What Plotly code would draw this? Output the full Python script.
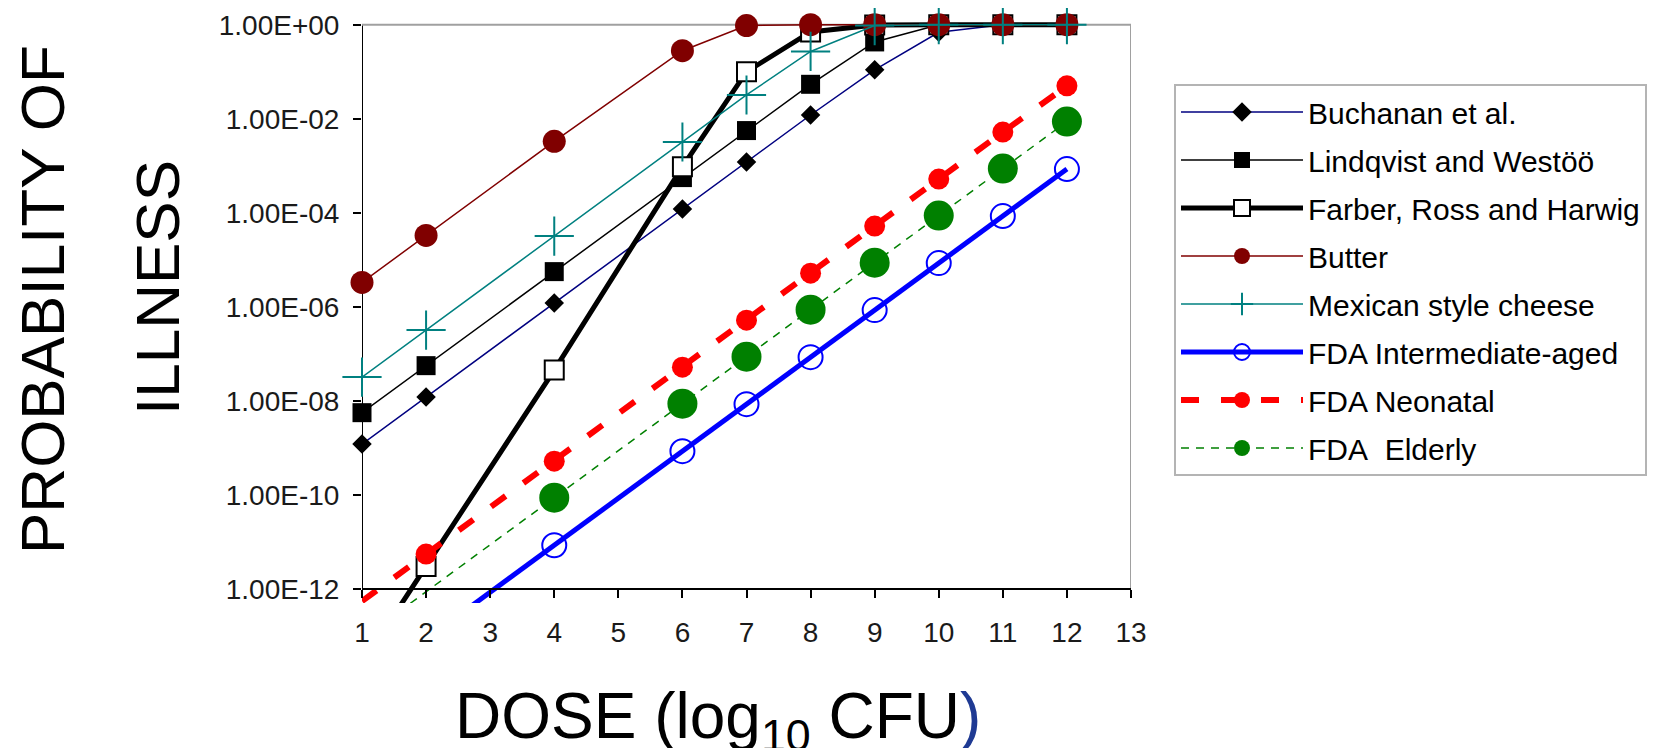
import plotly.graph_objects as go

# ---------------- data ----------------
dose = [1, 2, 4, 6, 7, 8, 9, 10, 11, 12]

buchanan = [1.2e-9, 1.2e-8, 1.2e-6, 1.2e-4, 1.2e-3, 1.2e-2, 0.11, 0.69, 1.0, 1.0]
lindqvist = [5.6e-9, 5.6e-8, 5.6e-6, 5.6e-4, 5.6e-3, 5.4e-2, 0.43, 1.0, 1.0, 1.0]
farber = [2.5e-14, 3.0e-12, 4.5e-8, 9.5e-4, 0.10, 0.70, 0.99, 1.0, 1.0, 1.0]
butter = [3.3e-6, 3.3e-5, 3.3e-3, 0.28, 0.96, 1.0, 1.0, 1.0, 1.0, 1.0]
mexican = [3.2e-8, 3.2e-7, 3.2e-5, 3.2e-3, 0.032, 0.27, 0.96, 1.0, 1.0, 1.0]
fda_intermediate = [8.5e-15, 8.5e-14, 8.5e-12, 8.5e-10, 8.5e-9, 8.5e-8, 8.5e-7, 8.5e-6, 8.5e-5, 8.5e-4]
fda_neonatal = [5.5e-13, 5.5e-12, 5.2e-10, 5.2e-8, 5.2e-7, 5.2e-6, 5.2e-5, 5.2e-4, 5.2e-3, 0.05]
fda_elderly = [8.7e-14, 8.7e-13, 8.7e-11, 8.7e-9, 8.7e-8, 8.7e-7, 8.7e-6, 8.7e-5, 8.7e-4, 8.7e-3]

series_names = [
    "Buchanan et al.",
    "Lindqvist and Westöö",
    "Farber, Ross and Harwig",
    "Butter",
    "Mexican style cheese",
    "FDA Intermediate-aged",
    "FDA Neonatal",
    "FDA\u00a0 Elderly",
]

x_ticks = list(range(1, 14))
y_tickvals = [1e0, 1e-2, 1e-4, 1e-6, 1e-8, 1e-10, 1e-12]
y_ticktext = ["1.00E+00", "1.00E-02", "1.00E-04", "1.00E-06", "1.00E-08", "1.00E-10", "1.00E-12"]

# ---------------- layout constants ----------------
FONT = "Liberation Sans, Arial, Helvetica, sans-serif"
OFF = 8                      # default body margin of the html page
W, H = 1668 - 2 * OFF, 756 - 2 * OFF
ML, MR, MT, MB = 354, 529, 12, 145
Y_LOG_RANGE = [-12.3, 0.1]
X_RANGE = [1, 13]
Y_FLOOR = 1e-12

PW = W - ML - MR
PH = H - MT - MB


def px_to_paper_x(px):       # px given in window coordinates
    return (px - OFF - ML) / PW


def px_to_paper_y(py):
    return (H - MB - (py - OFF)) / PH


def sizes(vals, s):
    # points below the axis floor are not drawn (as in the original chart)
    return [s if v >= Y_FLOOR else 0 for v in vals]


styles = [
    dict(line=dict(color="#000080", width=1.5),
         marker=dict(symbol="diamond", size=15, color="black", line=dict(width=0))),
    dict(line=dict(color="black", width=1.5),
         marker=dict(symbol="square", size=19, color="black", line=dict(width=0))),
    dict(line=dict(color="black", width=5),
         marker=dict(symbol="square", size=19, color="white", line=dict(color="black", width=2))),
    dict(line=dict(color="#800000", width=1.5),
         marker=dict(symbol="circle", size=23, color="#800000", line=dict(width=0))),
    dict(line=dict(color="#008080", width=1.5),
         marker=dict(symbol="cross-thin", size=28, color="#008080", line=dict(color="#008080", width=2))),
    dict(line=dict(color="#0000FF", width=5),
         marker=dict(symbol="circle-open", size=24, color="#0000FF", line=dict(color="#0000FF", width=2))),
    dict(line=dict(color="#FF0000", width=6, dash="18px,22px"),
         marker=dict(symbol="circle", size=21, color="#FF0000", line=dict(width=0))),
    dict(line=dict(color="#008000", width=1.5, dash="8px,7px"),
         marker=dict(symbol="circle", size=30, color="#008000", line=dict(width=0))),
]

all_series = [buchanan, lindqvist, farber, butter, mexican,
              fda_intermediate, fda_neonatal, fda_elderly]

fig = go.Figure()
for i, (name, vals, st) in enumerate(zip(series_names, all_series, styles)):
    mk = dict(st["marker"])
    mk["size"] = sizes(vals, mk["size"])
    mk["opacity"] = 1
    fig.add_trace(go.Scatter(
        x=dose, y=vals, name=name, mode="lines+markers",
        line=st["line"], marker=mk, cliponaxis=False,
        legendgroup=f"g{i}",
    ))

x_axis_pos = (0 - Y_LOG_RANGE[0] - 12) / (Y_LOG_RANGE[1] - Y_LOG_RANGE[0])

fig.update_layout(
    width=W, height=H,
    margin=dict(l=ML, r=MR, t=MT, b=MB, pad=0, autoexpand=False),
    paper_bgcolor="white", plot_bgcolor="white",
    font=dict(family=FONT, color="black"),
    showlegend=True,
    legend=dict(
        x=px_to_paper_x(1174), y=px_to_paper_y(84),
        xanchor="left", yanchor="top",
        bgcolor="white", bordercolor="#b4b4b4", borderwidth=2,
        font=dict(family=FONT, size=30, color="black"),
        itemwidth=122, tracegroupgap=6,
        traceorder="grouped",
    ),
    xaxis=dict(
        range=X_RANGE, tickvals=x_ticks, ticktext=[str(t) for t in x_ticks],
        ticks="outside", ticklen=8, tickwidth=2, tickcolor="black",
        showline=True, linecolor="black", linewidth=2,
        showgrid=False, zeroline=False,
        anchor="free", position=x_axis_pos,
        tickfont=dict(family=FONT, size=28, color="#1a1a1a"),
        ticklabelstandoff=11,
    ),
    yaxis=dict(
        type="log", range=Y_LOG_RANGE,
        tickvals=y_tickvals, ticktext=y_ticktext,
        ticks="outside", ticklen=8, tickwidth=2, tickcolor="black",
        showline=False, showgrid=False, zeroline=False,
        tickfont=dict(family=FONT, size=28, color="#1a1a1a"),
        ticklabelstandoff=8,
    ),
    shapes=[
        dict(type="line", xref="x", yref="y", x0=X_RANGE[0], x1=X_RANGE[0], y0=Y_FLOOR, y1=1,
             line=dict(color="black", width=2), layer="below"),
        dict(type="line", xref="x", yref="y", x0=X_RANGE[0], x1=X_RANGE[1], y0=1, y1=1,
             line=dict(color="#a0a0a0", width=2), layer="below"),
        dict(type="line", xref="x", yref="y", x0=X_RANGE[1], x1=X_RANGE[1], y0=Y_FLOOR, y1=1,
             line=dict(color="#a0a0a0", width=2), layer="below"),
    ],
    annotations=[
        dict(text="PROBABILITY OF", textangle=-90, showarrow=False,
             xref="paper", yref="paper", x=px_to_paper_x(42), y=px_to_paper_y(300),
             xanchor="center", yanchor="middle",
             font=dict(family=FONT, size=62, color="black")),
        dict(text="ILLNESS", textangle=-90, showarrow=False,
             xref="paper", yref="paper", x=px_to_paper_x(157), y=px_to_paper_y(287),
             xanchor="center", yanchor="middle",
             font=dict(family=FONT, size=62, color="black")),
        dict(text="DOSE (log<sub>10</sub> CFU<span style='color:#1F3A93'>)</span>",
             showarrow=False, xref="paper", yref="paper",
             x=px_to_paper_x(718), y=px_to_paper_y(720),
             xanchor="center", yanchor="middle",
             font=dict(family=FONT, size=64, color="black")),
    ],
)

fig.write_html("out.html")
